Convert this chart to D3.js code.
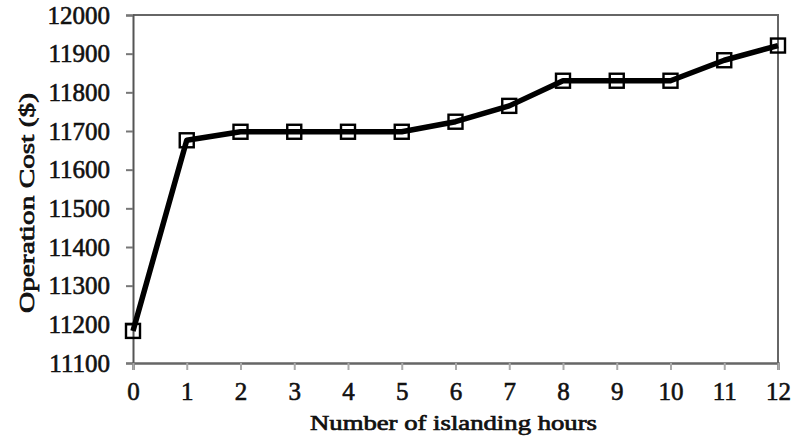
<!DOCTYPE html>
<html><head><meta charset="utf-8">
<script src="https://cdn.jsdelivr.net/npm/d3@7"></script>
<style>html,body{margin:0;padding:0;background:#fff;}svg{display:block;}</style>
</head><body>
<script>
const hours = [0,1,2,3,4,5,6,7,8,9,10,11,12];
const cost = [11183,11676,11698,11698,11698,11698,11724,11765,11830,11830,11830,11883,11921];
const yTicks = [11100,11200,11300,11400,11500,11600,11700,11800,11900,12000];
const xLabel = "Number of islanding hours";
const yLabel = "Operation Cost ($)";

const W = 795, H = 447;
const m = {left:133, right:17, top:15, bottom:84};
const svg = d3.select("body").append("svg").attr("width",W).attr("height",H);
const x = d3.scaleLinear().domain([0,12]).range([m.left, W-m.right]);
const y = d3.scaleLinear().domain([11100,12000]).range([H-m.bottom, m.top]);
const font = "Liberation Serif, Times New Roman, serif";

// frame top/right
svg.append("path").attr("d", `M${x(0)},${y(12000)}H${x(12)}V${y(11100)}`)
  .attr("fill","none").attr("stroke","#666").attr("stroke-width",2);

// y axis
const ya = svg.append("g").attr("transform",`translate(${x(0)},0)`)
  .call(d3.axisLeft(y).tickValues(yTicks).tickSize(7).tickPadding(16).tickFormat(d3.format("d")));
ya.select(".domain").attr("stroke","#555").attr("stroke-width",2);
ya.selectAll(".tick line").attr("stroke","#777").attr("stroke-width",2);
ya.selectAll("text").style("font-family",font).attr("font-size",25).attr("fill","#111")
  .attr("stroke","#111").attr("stroke-width",0.6);

// x axis
const xa = svg.append("g").attr("transform",`translate(0,${y(11100)})`)
  .call(d3.axisBottom(x).tickValues(hours).tickSize(7).tickPadding(12).tickFormat(d3.format("d")));
xa.select(".domain").attr("stroke","#666").attr("stroke-width",2.5);
xa.selectAll(".tick line").attr("stroke","#aaa").attr("stroke-width",2);
xa.selectAll("text").style("font-family",font).attr("font-size",25).attr("fill","#111")
  .attr("stroke","#111").attr("stroke-width",0.6);

// line
const data = hours.map((h,i)=>({h, c:cost[i]}));
svg.append("path").datum(data)
  .attr("d", d3.line().x(d=>x(d.h)).y(d=>y(d.c)))
  .attr("fill","none").attr("stroke","#000").attr("stroke-width",5.5).attr("stroke-linejoin","round");

// markers
svg.selectAll("rect.mk").data(data).enter().append("rect").attr("class","mk")
  .attr("x", d=>x(d.h)-7).attr("y", d=>y(d.c)-7).attr("width",14).attr("height",14)
  .attr("fill","none").attr("stroke","#000").attr("stroke-width",2.4);

// titles
svg.append("text").attr("x", (310+597)/2).attr("y", 430).attr("text-anchor","middle")
  .style("font-family",font).attr("font-size",21).attr("fill","#111")
  .attr("stroke","#111").attr("stroke-width",0.7)
  .attr("textLength",287).attr("lengthAdjust","spacingAndGlyphs").text(xLabel);
svg.append("text").attr("transform",`translate(34,${(93+313)/2}) rotate(-90)`).attr("text-anchor","middle")
  .style("font-family",font).attr("font-size",21).attr("fill","#111")
  .attr("stroke","#111").attr("stroke-width",0.7)
  .attr("textLength",220).attr("lengthAdjust","spacingAndGlyphs").text(yLabel);
</script>
</body></html>
